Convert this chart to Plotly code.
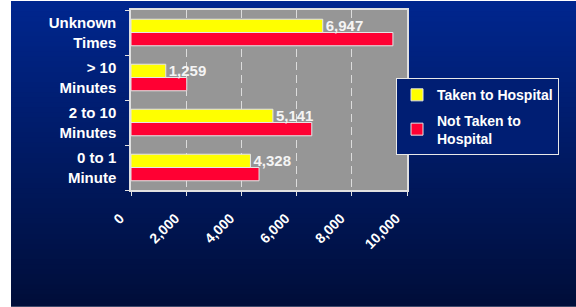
import plotly.graph_objects as go

categories = ["0 to 1<br>Minute", "2 to 10<br>Minutes", "> 10<br>Minutes", "Unknown<br>Times"]
taken = [4328, 5141, 1259, 6947]
not_taken = [4640, 6550, 2020, 9490]
x_ticks = [0, 2000, 4000, 6000, 8000, 10000]
x_ticklabels = ["0", "2,000", "4,000", "6,000", "8,000", "10,000"]

W, H = 576, 307
L, R, T, B = 131, 169, 8, 117
pw, ph = W - L - R, H - T - B

def px2x(p):
    return (p - L) / pw

def py2y(p):
    return (H - B - p) / ph

font_bold = "Liberation Sans, Arial, sans-serif"

fig = go.Figure()
fig.add_trace(go.Bar(
    y=categories, x=not_taken, orientation="h", name="Not Taken to<br>Hospital",
    marker=dict(color="#ff0033", line=dict(color="#e6e6e6", width=1)),
    legendrank=2, legendgroup="b",
))
fig.add_trace(go.Bar(
    y=categories, x=taken, orientation="h", name="Taken to Hospital",
    marker=dict(color="#ffff00", line=dict(color="#e6e6e6", width=1)),
    text=taken, texttemplate="%{x:,}", textposition="outside", constraintext="none",
    textfont=dict(color="#f4f4f4", size=15, family=font_bold, weight="bold"),
    cliponaxis=False, legendrank=1, legendgroup="a",
))

shapes = []
n = 60
top_c = (0, 38, 142)
bot_c = (0, 14, 58)
for i in range(n):
    f = i / (n - 1)
    c = tuple(round(top_c[k] + (bot_c[k] - top_c[k]) * f) for k in range(3))
    y0p = H * i / n - 1
    y1p = H * (i + 1) / n + 1
    shapes.append(dict(type="rect", xref="paper", yref="paper", layer="below",
                       x0=px2x(11), x1=px2x(W + 2), y0=py2y(y1p), y1=py2y(y0p),
                       line=dict(width=0), fillcolor="rgb(%d,%d,%d)" % c))
shapes.append(dict(type="rect", xref="paper", yref="paper", layer="below",
                   x0=0, x1=1, y0=0, y1=1, line=dict(width=0), fillcolor="#969696"))

nb = "\u00a0\u00a0\u00a0\u00a0"
fig.update_layout(
    width=W, height=H,
    margin=dict(l=L, r=R, t=T, b=B, pad=0),
    paper_bgcolor="white", plot_bgcolor="#969696",
    barmode="group", bargap=0.41, bargroupgap=0,
    shapes=shapes,
    showlegend=True,
    legend=dict(x=px2x(396), y=py2y(77), xanchor="left", yanchor="top",
                bgcolor="rgb(0,30,115)", bordercolor="#e8e8e8", borderwidth=1,
                font=dict(color="white", size=14, family=font_bold, weight="bold"),
                tracegroupgap=4, traceorder="grouped"),
    xaxis=dict(range=[0, 10000], tickvals=x_ticks, ticktext=[t + nb for t in x_ticklabels],
               tickangle=-45, ticks="outside", ticklen=4, tickcolor="#e0e0e0",
               showline=True, linecolor="#e0e0e0", linewidth=1.5, mirror=True,
               showgrid=True, gridcolor="#dcdcdc", griddash="8px,5px", gridwidth=1,
               zeroline=False, ticklabelstandoff=-2,
               tickfont=dict(color="white", size=14, family=font_bold, weight="bold")),
    yaxis=dict(range=[-0.5, 3.5], tickson="boundaries", ticks="outside", ticklen=4,
               tickcolor="#e0e0e0", showline=True, linecolor="#e0e0e0", linewidth=1.5,
               mirror=True, showgrid=False, ticklabelstandoff=10,
               tickfont=dict(color="white", size=15, family=font_bold, weight="bold")),
)

fig.write_html("out.html", post_script="document.body.style.margin='0';",
               config={"displayModeBar": False})
